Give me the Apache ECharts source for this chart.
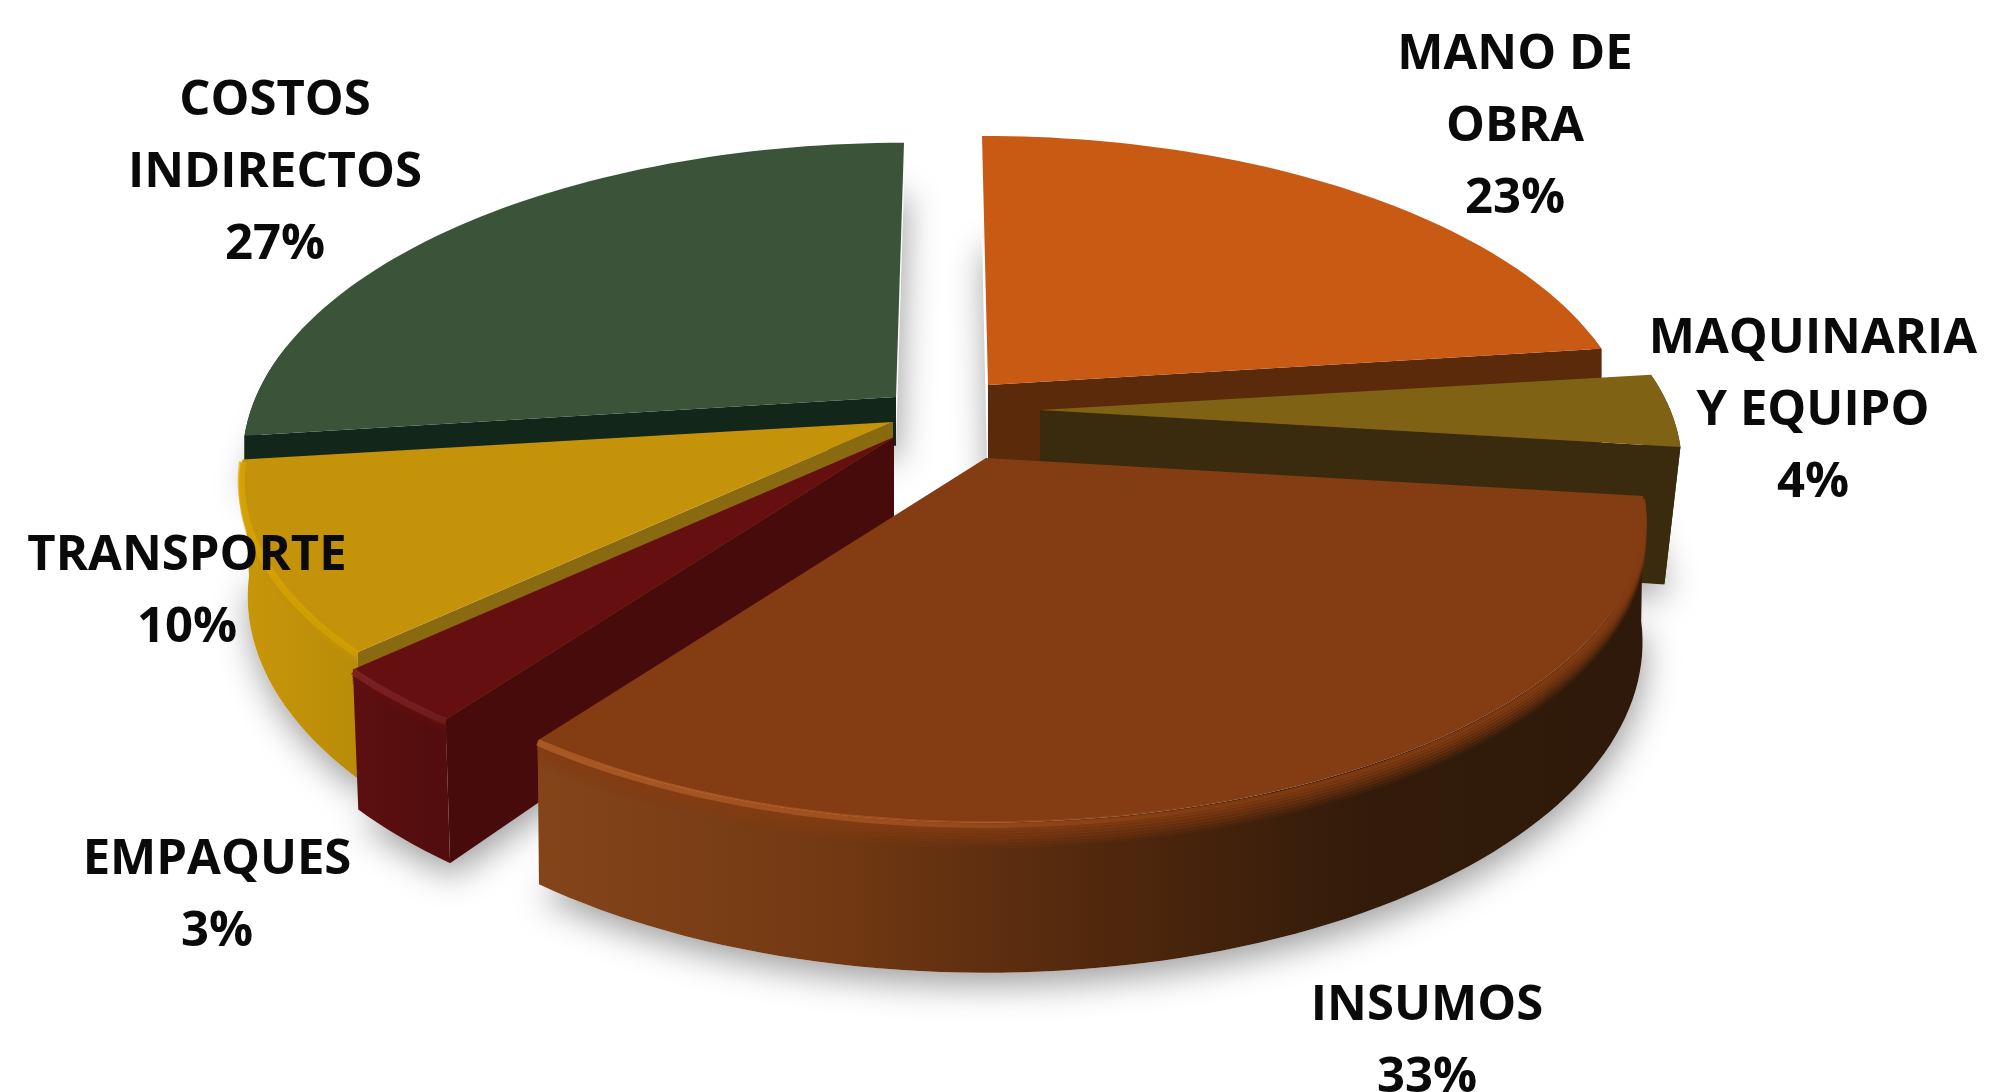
<!DOCTYPE html>
<html>
<head>
<meta charset="utf-8">
<style>html,body{margin:0;padding:0;background:#fff}#chart{width:1991px;height:1092px;filter:blur(0.6px)}</style>
<script src="https://cdn.jsdelivr.net/npm/echarts@6/dist/echarts.min.js"></script>
</head>
<body>
<div id="chart"></div>
<script>
// ---- data ----
var categories = ['MANO DE\nOBRA', 'MAQUINARIA\nY EQUIPO', 'INSUMOS', 'EMPAQUES', 'TRANSPORTE', 'COSTOS\nINDIRECTOS'];
var values = [23, 4, 33, 3, 10, 27];

// ---- presentation (per slice, same order as the data) ----
var topColors  = ['#c85a14', '#7f6214', '#843c12', '#650f10', '#c4930a', '#3b5339'];
var cutColors  = ['#5a2a0a', '#3a2a0e', '#4a230c', '#470b0c', '#8a6a10', '#12261a'];
var wallStops  = [
  ['#6e340c', '#5a2a0a'],
  ['#4a3810', '#3a2a0e'],
  ['#84441a', '#743a13', '#52280d', '#321b0a', '#2e190a'],
  ['#5c0f10', '#520d0e'],
  ['#c8960a', '#b88c08'],
  ['#12261a', '#12261a']
];
var lipColors  = [null, null, ['#b8652c', '#a85522', 'rgba(150,75,25,0)', 'rgba(150,75,25,0)'], ['#862828', '#742020'], ['#dca800', '#d0a000'], null];
var apexX      = [988, 1040, 986, 894, 893, 896];
var apexY      = [385, 410, 458, 437, 422, 397];
var scaleX     = [0.96, 0.955, 0.98, 0.98, 0.97, 0.97];
var scaleY     = [0.98, 0.955, 0.98, 0.98, 0.97, 1.0];
var backSkew   = [-6, 0, 0, 0, 0, 8];
var depthScale = [1, 1.1, 1, 1, 0.93, 0.4];
var baseShrink = [1, 0.975, 0.997, 0.99, 0.99, 1];
var stacking   = [1, 3, 5, 4, 2, 0];
var labelX     = [1515, 1813, 1427, 217, 187, 275];
var labelY     = [127, 411, 1042, 896, 592, 173];

var RX = 660, RY = 302, PERSPECTIVE = 0.188, DEPTH = 122;
var total = values.reduce(function (a, b) { return a + b; }, 0);

function project(i, deg, low, dy) {
  var t = deg * Math.PI / 180, u = Math.sin(t), v = -Math.cos(t);
  var w = 1 / (1 - PERSPECTIVE * v);
  var x = u * RX * w * scaleX[i] - v * backSkew[i], y = v * RY * w * scaleY[i];
  if (low) { x *= baseShrink[i]; y += DEPTH * depthScale[i] * w; }
  return [apexX[i] + x, apexY[i] + y + (dy || 0)];
}
function arc(i, a, b, low, dy) {
  var pts = [], n = Math.max(2, Math.ceil(Math.abs(b - a) / 1.5));
  for (var k = 0; k <= n; k++) pts.push(project(i, a + (b - a) * k / n, low, dy));
  return pts;
}
function grad(colors) {
  return new echarts.graphic.LinearGradient(0, 0, 1, 0, colors.map(function (c, k) {
    return { offset: k / (colors.length - 1), color: c };
  }));
}
function cutWall(i, deg, z) {
  var base = [apexX[i], apexY[i] + DEPTH * depthScale[i]];
  return { type: 'polygon', z2: z, shape: { points: [[apexX[i], apexY[i]], project(i, deg, false), project(i, deg, true), base] },
    style: { fill: cutColors[i] } };
}

function renderSlice(params, api) {
  var i = params.dataIndex, value = api.value(1), before = 0;
  for (var k = 0; k < i; k++) before += values[k];
  var a0 = before / total * 360, a1 = (before + value) / total * 360;
  var z = 10 + stacking[i] * 10, kids = [];
  var apex = [apexX[i], apexY[i]];

  // soft contact shadow under the base
  kids.push({ type: 'polygon', z2: 1,
    shape: { points: [[apexX[i], apexY[i] + DEPTH * depthScale[i]]].concat(arc(i, a0, a1, true)) },
    style: { fill: '#fff', shadowBlur: 34, shadowOffsetY: 12, shadowOffsetX: 2, shadowColor: 'rgba(0,0,0,0.38)' } });

  // outer wall, front half only
  var wa = Math.max(a0, 80), wb = Math.min(a1, 280);
  if (wb > wa) {
    var topEdge = arc(i, wa, wb, false), lowEdge = arc(i, wa, wb, true).reverse();
    kids.push({ type: 'polygon', z2: z, shape: { points: topEdge.concat(lowEdge) }, style: { fill: grad(wallStops[i]) } });
  }
  // visible cut faces
  if (a0 > 0 && a0 < 270 && Math.cos((a0 - 90) * Math.PI / 180) < 0) kids.push(cutWall(i, a0, z + 1));
  if (Math.cos((a1 + 90) * Math.PI / 180) < 0) kids.push(cutWall(i, a1 % 360 === 0 ? 360 : a1, z + 1));

  // bevel: top colour fades down into the wall
  if (lipColors[i]) {
    var reach = i === 2 ? 8 : 4;
    for (var b = reach; b >= 1; b--) {
      kids.push({ type: 'polyline', z2: z + 2, shape: { points: arc(i, wa, wb, false, b * 3) },
        style: { fill: null, stroke: topColors[i], lineWidth: 4, opacity: 1 - b / (reach + 1) } });
    }
  }
  // top face
  kids.push({ type: 'polygon', z2: z + 3, shape: { points: [apex].concat(arc(i, a0, a1, false)) }, style: { fill: topColors[i] } });

  // highlight along the rim
  if (lipColors[i]) {
    kids.push({ type: 'polyline', z2: z + 4, shape: { points: arc(i, wa, wb, false, 2) },
      style: { fill: null, stroke: grad(lipColors[i]), lineWidth: 7, opacity: 0.7 } });
  }
  // label
  kids.push({ type: 'text', z2: 200, style: {
    x: labelX[i], y: labelY[i], text: categories[i] + '\n' + value + '%',
    fill: '#0a0a0a', fontFamily: '"Open Sans"', fontWeight: 700, fontSize: 49, lineHeight: 72,
    align: 'center', verticalAlign: 'middle' } });
  return { type: 'group', children: kids };
}

var chart = echarts.init(document.getElementById('chart'), null, { renderer: 'canvas' });
chart.setOption({
  backgroundColor: '#ffffff',
  animation: false,
  series: [{
    type: 'custom',
    coordinateSystem: 'none',
    clip: false,
    renderItem: renderSlice,
    data: categories.map(function (c, i) { return [c, values[i]]; })
  }]
});
</script>
</body>
</html>
